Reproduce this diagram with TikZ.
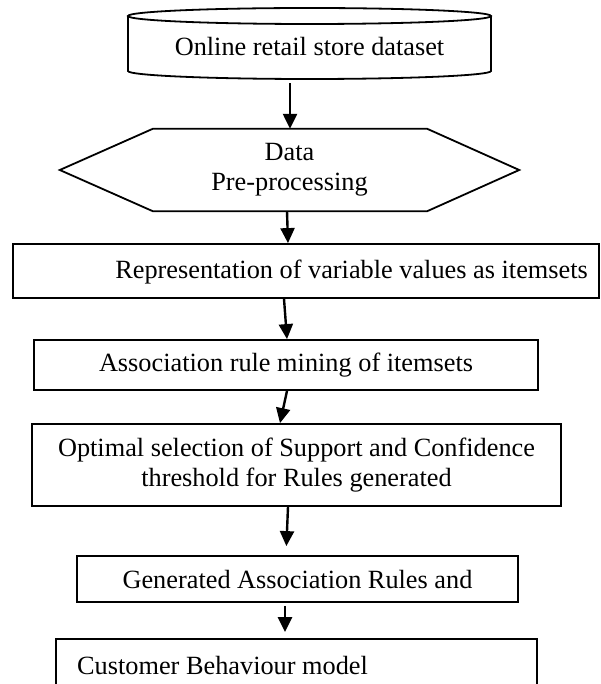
\documentclass[tikz,border=0pt]{standalone}
\usepackage{fontspec}
\setmainfont{Liberation Serif}
\usetikzlibrary{arrows.meta}
\begin{document}
\begin{tikzpicture}[x=1pt,y=-1pt,
  every node/.style={font=\fontsize{26.3}{30}\selectfont, inner sep=0pt},
  boxnode/.style={draw, line width=1.8pt, rectangle},
  shp/.style={line width=1.8pt},
  arr/.style={line width=2.4pt, -{Triangle[length=15pt,width=14pt]}}]
\useasboundingbox (0,0) rectangle (600,684);
\clip (0,0) rectangle (600,684);
% cylinder
\node[minimum width=363pt, minimum height=71pt] (db) at (309.5,43.5) {};
\node at (309.5,47) {Online retail store dataset};
\draw[shp] (309.5,16) ellipse [x radius=181.5pt, y radius=8pt];
\draw[shp] (128,16) -- (128,71) arc [start angle=180, end angle=360, x radius=181.5pt, y radius=8pt] -- (491,16);
% hexagon
\node[minimum width=459pt, minimum height=82pt, align=center] (hex) at (289.5,170) {Data\\Pre-processing};
\draw[shp] (hex.west) -- ([xshift=93pt]hex.north west) -- ([xshift=-92pt]hex.north east)
  -- (hex.east) -- ([xshift=-92pt]hex.south east) -- ([xshift=93pt]hex.south west) -- cycle;
% boxes
\node[boxnode, minimum width=586pt, minimum height=54pt] (r1) at (306,271) {};
\node[anchor=east] at (588,272) {Representation of variable values as itemsets};
\node[boxnode, minimum width=504pt, minimum height=50pt] (r2) at (286,365) {Association rule mining of itemsets};
\node[boxnode, minimum width=529pt, minimum height=82pt, align=center] (r3) at (296.5,465)
  {Optimal selection of Support and Confidence\\threshold for Rules generated};
\node[boxnode, minimum width=441pt, minimum height=46pt] (r4) at (297.5,579) {Generated Association Rules and};
\node[boxnode, minimum width=481pt, minimum height=80pt] (r5) at (296.5,679) {};
\node[anchor=west] at (77,665) {Customer Behaviour model};
% arrows
\draw[arr, shorten <=4pt] ([xshift=-19.5pt]db.south) -- ([xshift=0.5pt]hex.north);
\draw[arr] ([xshift=-2.5pt]hex.south) -- ([xshift=-18pt]r1.north);
\draw[arr] ([xshift=-22pt]r1.south) -- ([xshift=1pt]r2.north);
\draw[arr] ([xshift=1pt]r2.south) -- ([xshift=-16.5pt]r3.north);
\draw[arr, shorten >=9pt] ([xshift=-8.5pt]r3.south) -- ([xshift=-11.5pt]r4.north);
\draw[arr, shorten <=3pt, shorten >=6pt] ([xshift=-12.5pt]r4.south) -- ([xshift=-11.5pt]r5.north);
\end{tikzpicture}
\end{document}
